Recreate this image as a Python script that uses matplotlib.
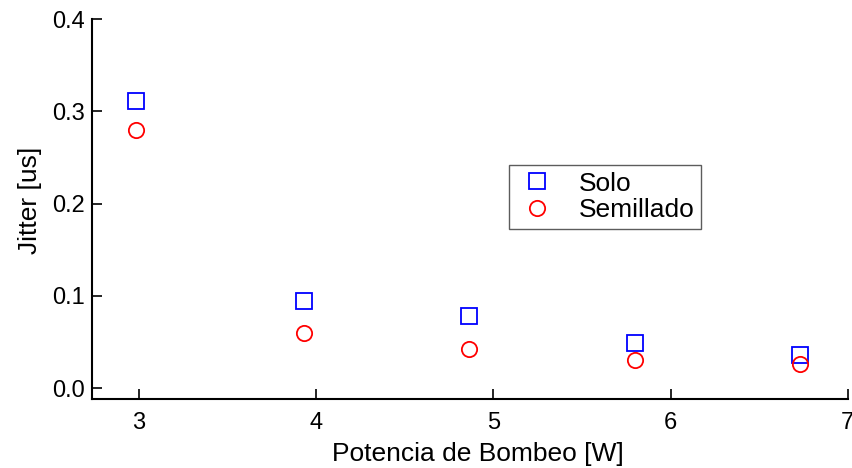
import matplotlib
matplotlib.use("Agg")
import matplotlib.pyplot as plt

plt.rcParams['font.family'] = ['Liberation Sans', 'DejaVu Sans']

# pump power [W]
potencia = [2.98, 3.93, 4.86, 5.80, 6.73]
# jitter [us]
jitter_solo = [0.311, 0.095, 0.078, 0.049, 0.036]
jitter_semillado = [0.280, 0.060, 0.042, 0.030, 0.026]

fig = plt.figure(figsize=(8.52, 4.68), dpi=100)
ax = fig.add_axes([0.108, 0.147, 0.887, 0.812])

ax.plot(potencia, jitter_solo, linestyle='none', marker='s', markersize=11,
        markerfacecolor='none', markeredgecolor='#0000ff', markeredgewidth=1.3,
        label='Solo')
ax.plot(potencia, jitter_semillado, linestyle='none', marker='o', markersize=11,
        markerfacecolor='none', markeredgecolor='#ff0000', markeredgewidth=1.3,
        label='Semillado')

ax.set_xlim(2.734, 7.0)
ax.set_ylim(-0.012, 0.4)
ax.set_xticks([3, 4, 5, 6, 7])
ax.set_yticks([0.0, 0.1, 0.2, 0.3, 0.4])
ax.set_yticklabels(['0.0', '0.1', '0.2', '0.3', '0.4'])

for side in ['top', 'right']:
    ax.spines[side].set_visible(False)
for side in ['left', 'bottom']:
    ax.spines[side].set_linewidth(1.5)

ax.tick_params(direction='in', length=7, width=1.2, labelsize=17, pad=5)
ax.tick_params(axis='x', pad=9)

ax.set_xlabel('Potencia de Bombeo [W]', fontsize=19)
ax.set_ylabel('Jitter [us]', fontsize=19)
ax.xaxis.set_label_coords(0.511, -0.112)
ax.yaxis.set_label_coords(-0.066, 0.524)

leg = ax.legend(loc='upper left', bbox_to_anchor=(0.552, 0.616), fontsize=19,
                frameon=True, fancybox=False, edgecolor='#333333',
                handletextpad=0.8, borderpad=0.25, labelspacing=0.1,
                handlelength=1.6, borderaxespad=0)
leg.get_frame().set_linewidth(1.0)

fig.savefig('out.png', dpi=100)
